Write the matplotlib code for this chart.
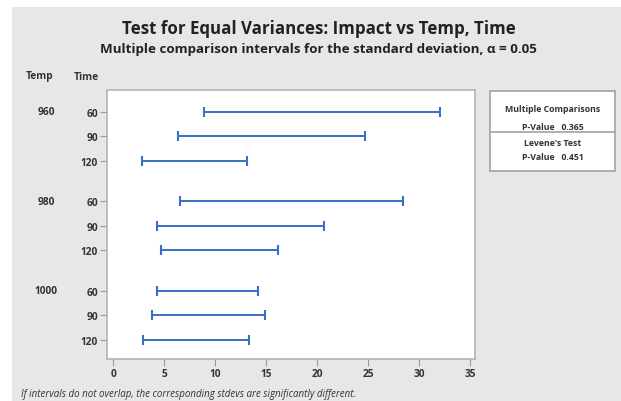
import matplotlib
matplotlib.use("Agg")
import matplotlib.pyplot as plt
from matplotlib.patches import Rectangle
from matplotlib.transforms import blended_transform_factory

# ---- data ----
temps = ["960", "980", "1000"]
times = ["60", "90", "120"]
lower = [8.95, 6.4, 2.87, 6.57, 4.31, 4.68, 4.31, 3.79, 2.97]
upper = [32.06, 24.7, 13.17, 28.4, 20.7, 16.2, 14.25, 14.9, 13.3]
xticks = [0, 5, 10, 15, 20, 25, 30, 35]
mc_pvalue = "0.365"
levene_pvalue = "0.451"

W, H = 621, 402
DPI = 100
plt.rcParams['font.family'] = ['Open Sans', 'DejaVu Sans']

fig = plt.figure(figsize=(W / DPI, H / DPI), dpi=DPI)
fig.patch.set_facecolor('white')

def fx(px):
    return px / W

def fy(py):
    return 1 - py / H

# gray background region
bg = fig.add_axes([0, 0, 1, 1], zorder=-5)
bg.set_xlim(0, W)
bg.set_ylim(H, 0)
bg.axis('off')
bg.add_patch(Rectangle((12, 8), W - 12, H - 8, facecolor='#e7e7e7', edgecolor='none'))

TXT = '#333333'
BLUE = '#3a70c4'

# axes
left, right, top, bottom = 107, 475, 91, 360
ax = fig.add_axes([fx(left), fy(bottom), fx(right - left), (bottom - top) / H], zorder=1)
ax.set_facecolor('white')

group_gap = 0.65
ypos = []
for g in range(len(temps)):
    for t in range(len(times)):
        ypos.append(g * (len(times) + group_gap) + t)

centers = [(lo + hi) / 2 for lo, hi in zip(lower, upper)]
halfw = [(hi - lo) / 2 for lo, hi in zip(lower, upper)]
ax.errorbar(centers, ypos, xerr=halfw, fmt='none', ecolor=BLUE, elinewidth=1.4,
            capsize=3.6, capthick=1.5)

ax.set_xlim(-0.59, 35.49)
ax.set_ylim(ypos[-1] + 0.78, -0.88)
ax.set_xticks(xticks)
ax.set_xticklabels([str(v) for v in xticks])
ax.set_yticks(ypos)
ax.set_yticklabels(times * len(temps))
ax.tick_params(axis='both', colors='#9a9a9a', labelcolor=TXT, labelsize=7.3, length=5, width=0.8, pad=1.5)
for lab in ax.get_xticklabels() + ax.get_yticklabels():
    lab.set_fontweight('bold')
for s in ax.spines.values():
    s.set_color('#b4b4b4')
    s.set_linewidth(1.2)

# temp labels
trans = blended_transform_factory(fig.transFigure, ax.transData)
for g, tlabel in enumerate(temps):
    yy = ypos[g * len(times)]
    ax.text(fx(46), yy, tlabel, transform=trans, ha='center', va='center', fontsize=7.3,
            color=TXT, fontweight='bold', clip_on=False)

fig.text(fx(40), fy(77), 'Temp', ha='center', va='center', fontsize=7.3, color=TXT, fontweight='bold')
fig.text(fx(86), fy(77), 'Time', ha='center', va='center', fontsize=7.3, color=TXT, fontweight='bold')

# titles
fig.text(fx(319), fy(29.5), 'Test for Equal Variances: Impact vs Temp, Time', ha='center', va='center',
         fontsize=12.2, color='#222222', fontweight='bold')
fig.text(fx(318.5), fy(49.5), 'Multiple comparison intervals for the standard deviation, \u03b1 = 0.05',
         ha='center', va='center', fontsize=9.6, color='#222222', fontweight='bold')

# legend box
bx0, bx1, by0, by1, bdiv = 490, 615, 92, 172, 133
bg.add_patch(Rectangle((bx0, by0), bx1 - bx0, by1 - by0, facecolor='white', edgecolor='#a8a8a8',
                       linewidth=1.3, zorder=2))
bg.plot([bx0, bx1], [bdiv, bdiv], color='#a8a8a8', linewidth=1.3, zorder=3)
cx = (bx0 + bx1) / 2
for yy, s in [(109, 'Multiple Comparisons'), (127.5, 'P-Value   ' + mc_pvalue),
              (144, "Levene's Test"), (158, 'P-Value   ' + levene_pvalue)]:
    bg.text(cx, yy, s, ha='center', va='center', fontsize=6.3, color=TXT, fontweight='bold', zorder=4)

# footer
fig.text(fx(21), fy(394.5), 'If intervals do not overlap, the corresponding stdevs are significantly different.',
         ha='left', va='center', fontsize=7, color=TXT, style='italic')

fig.savefig('out.png', dpi=DPI)
